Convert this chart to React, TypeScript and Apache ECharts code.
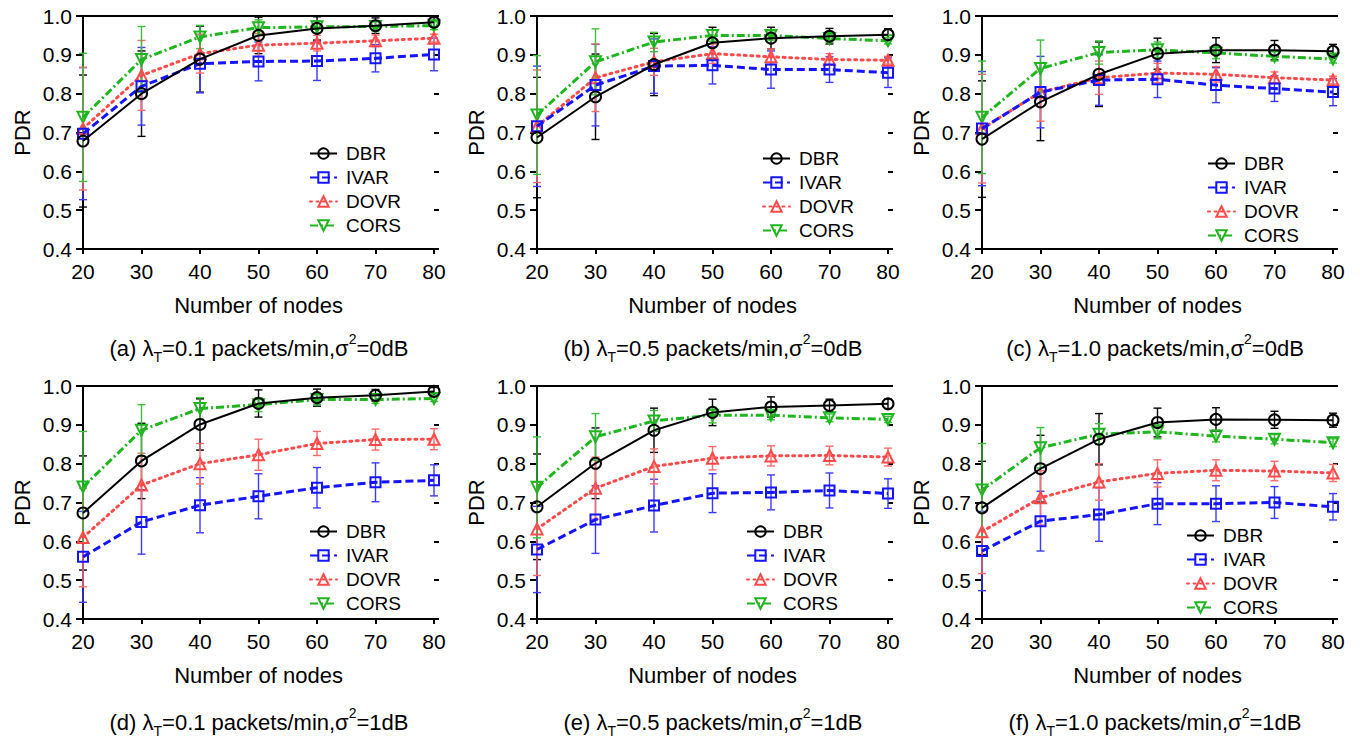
import React, { useEffect, useRef } from "react";
import * as echarts from "echarts";

const nodes = [20, 30, 40, 50, 60, 70, 80];
const seriesNames = ["DBR", "IVAR", "DOVR", "CORS"];
const yTicks = [0.4, 0.5, 0.6, 0.7, 0.8, 0.9, 1.0];

// Mean PDR per panel, rows in order DBR, IVAR, DOVR, CORS
const meanA = [
  [0.678, 0.8, 0.889, 0.95, 0.968, 0.975, 0.984],
  [0.697, 0.819, 0.877, 0.883, 0.884, 0.891, 0.901],
  [0.71, 0.847, 0.903, 0.925, 0.93, 0.936, 0.943],
  [0.739, 0.888, 0.946, 0.97, 0.972, 0.973, 0.975],
];
const errA = [
  [0.17, 0.11, 0.085, 0.047, 0.03, 0.02, 0.012],
  [0.17, 0.1, 0.075, 0.05, 0.05, 0.035, 0.042],
  [0.158, 0.09, 0.05, 0.03, 0.02, 0.015, 0.01],
  [0.165, 0.085, 0.03, 0.02, 0.015, 0.012, 0.01],
];
const meanB = [
  [0.687, 0.792, 0.875, 0.931, 0.943, 0.948, 0.952],
  [0.716, 0.822, 0.871, 0.873, 0.862, 0.862, 0.854],
  [0.716, 0.841, 0.882, 0.903, 0.895, 0.888, 0.886],
  [0.745, 0.882, 0.933, 0.95, 0.95, 0.942, 0.936],
];
const errB = [
  [0.155, 0.11, 0.08, 0.04, 0.028, 0.02, 0.015],
  [0.155, 0.105, 0.07, 0.048, 0.048, 0.033, 0.038],
  [0.145, 0.087, 0.035, 0.025, 0.02, 0.015, 0.01],
  [0.153, 0.085, 0.025, 0.015, 0.012, 0.01, 0.008],
];
const meanC = [
  [0.683, 0.779, 0.85, 0.903, 0.912, 0.912, 0.909],
  [0.71, 0.804, 0.835, 0.837, 0.822, 0.813, 0.804],
  [0.71, 0.804, 0.841, 0.853, 0.85, 0.841, 0.835],
  [0.739, 0.865, 0.906, 0.913, 0.905, 0.896, 0.889],
];
const errC = [
  [0.15, 0.1, 0.083, 0.04, 0.032, 0.025, 0.018],
  [0.147, 0.092, 0.065, 0.047, 0.045, 0.033, 0.035],
  [0.14, 0.075, 0.043, 0.025, 0.02, 0.015, 0.01],
  [0.145, 0.073, 0.03, 0.02, 0.015, 0.012, 0.01],
];
const meanD = [
  [0.673, 0.807, 0.901, 0.955, 0.97, 0.976, 0.986],
  [0.56, 0.65, 0.693, 0.716, 0.738, 0.752, 0.757],
  [0.61, 0.745, 0.8, 0.823, 0.852, 0.862, 0.863],
  [0.74, 0.886, 0.942, 0.952, 0.965, 0.965, 0.968],
];
const errD = [
  [0.147, 0.097, 0.066, 0.035, 0.022, 0.015, 0.01],
  [0.117, 0.083, 0.071, 0.058, 0.052, 0.05, 0.04],
  [0.127, 0.082, 0.052, 0.04, 0.031, 0.027, 0.027],
  [0.143, 0.066, 0.028, 0.018, 0.012, 0.01, 0.008],
];
const meanE = [
  [0.689, 0.801, 0.886, 0.932, 0.946, 0.95, 0.954],
  [0.579, 0.656, 0.692, 0.724, 0.726, 0.731, 0.723],
  [0.632, 0.737, 0.793, 0.814, 0.82, 0.821, 0.817],
  [0.739, 0.869, 0.91, 0.925, 0.925, 0.918, 0.914],
];
const errE = [
  [0.136, 0.091, 0.057, 0.034, 0.026, 0.016, 0.012],
  [0.111, 0.087, 0.068, 0.05, 0.045, 0.045, 0.038],
  [0.12, 0.08, 0.045, 0.03, 0.026, 0.024, 0.023],
  [0.13, 0.06, 0.027, 0.02, 0.012, 0.01, 0.008],
];
const meanF = [
  [0.686, 0.787, 0.863, 0.906, 0.914, 0.913, 0.912],
  [0.575, 0.652, 0.669, 0.697, 0.697, 0.7, 0.689],
  [0.625, 0.712, 0.753, 0.775, 0.783, 0.781, 0.776],
  [0.732, 0.841, 0.876, 0.882, 0.871, 0.863, 0.854],
];
const errF = [
  [0.12, 0.086, 0.066, 0.037, 0.03, 0.022, 0.018],
  [0.102, 0.077, 0.069, 0.054, 0.046, 0.041, 0.034],
  [0.108, 0.07, 0.047, 0.035, 0.027, 0.025, 0.022],
  [0.12, 0.052, 0.027, 0.018, 0.015, 0.012, 0.01],
];

const captions = [
  "{n|(a) λ}{sub|T}{n|=0.1 packets/min,σ}{sup|2}{n|=0dB}",
  "{n|(b) λ}{sub|T}{n|=0.5 packets/min,σ}{sup|2}{n|=0dB}",
  "{n|(c) λ}{sub|T}{n|=1.0 packets/min,σ}{sup|2}{n|=0dB}",
  "{n|(d) λ}{sub|T}{n|=0.1 packets/min,σ}{sup|2}{n|=1dB}",
  "{n|(e) λ}{sub|T}{n|=0.5 packets/min,σ}{sup|2}{n|=1dB}",
  "{n|(f) λ}{sub|T}{n|=1.0 packets/min,σ}{sup|2}{n|=1dB}",
];
const xAxisTitle = "Number of nodes";
const yAxisTitle = "PDR";

const FONT = "'Liberation Sans', Arial, Helvetica, sans-serif";

const panels = [
  { mean: meanA, err: errA },
  { mean: meanB, err: errB },
  { mean: meanC, err: errC },
  { mean: meanD, err: errD },
  { mean: meanE, err: errE },
  { mean: meanF, err: errF },
];

// layout
const gridLefts = [83, 537, 982];
const gridTops = [16, 386];
const gridW = 351;
const gridH = 233;
const captionX = [259, 713, 1155];
const captionY = [348, 722];
const legendPos = [
  { left: 304, top: 139 },
  { left: 757, top: 144 },
  { left: 1202, top: 149 },
  { left: 304, top: 517 },
  { left: 741, top: 517 },
  { left: 1181, top: 521 },
];

const lineColors = ["#000000", "#1414ff", "#ff4a4a", "#1fb51f"];
const errColors = ["#000000", "#3b3bff", "#ff6b6b", "#3cc03c"];
const symbols = ["circle", "rect", "triangle", "triangle"];
const symbolRotates = [0, 0, 0, 180];
const symbolSizes = [11, 10, 11, 11];
const dashes: any[] = ["solid", [8, 4], [2, 4.5], [8, 3, 2, 3]];
const lineWidths = [2, 3, 3, 3];

function renderErr(params: any, api: any) {
  const x = api.value(0);
  const lo = api.value(1);
  const hi = api.value(2);
  const t = api.coord([x, hi]);
  const b = api.coord([x, lo]);
  const hw = 4;
  const style = { stroke: api.visual("color"), lineWidth: 1.4 };
  return {
    type: "group",
    children: [
      { type: "line", shape: { x1: t[0], y1: t[1], x2: b[0], y2: b[1] }, style },
      { type: "line", shape: { x1: t[0] - hw, y1: t[1], x2: t[0] + hw, y2: t[1] }, style },
      { type: "line", shape: { x1: b[0] - hw, y1: b[1], x2: b[0] + hw, y2: b[1] }, style },
    ],
  };
}

function buildOption() {
  const grid: any[] = [];
  const xAxis: any[] = [];
  const yAxis: any[] = [];
  const series: any[] = [];
  const legend: any[] = [];
  const graphic: any[] = [];

  panels.forEach((p, i) => {
    const row = Math.floor(i / 3);
    const col = i % 3;
    grid.push({ left: gridLefts[col], top: gridTops[row], width: gridW, height: gridH });
    const xi = xAxis.length;
    xAxis.push({
      type: "value",
      gridIndex: i,
      min: 20,
      max: 80,
      interval: 10,
      name: xAxisTitle,
      nameLocation: "middle",
      nameGap: 45,
      nameTextStyle: { fontSize: 22, color: "#000", fontFamily: FONT },
      axisLine: { show: true, lineStyle: { color: "#000", width: 2 } },
      axisTick: { show: true, length: 5, lineStyle: { color: "#000", width: 2 } },
      axisLabel: { fontSize: 21, color: "#000", fontFamily: FONT, margin: 12 },
      splitLine: { show: false },
    });
    xAxis.push({
      type: "value",
      gridIndex: i,
      position: "top",
      min: 20,
      max: 80,
      interval: 10,
      axisLine: { show: true, onZero: false, lineStyle: { color: "#000", width: 2 } },
      axisTick: { show: false },
      axisLabel: { show: false },
      splitLine: { show: false },
    });
    const yi = yAxis.length;
    yAxis.push({
      type: "value",
      gridIndex: i,
      min: 0.4,
      max: 1.0,
      interval: 0.1,
      name: yAxisTitle,
      nameLocation: "middle",
      nameGap: 50,
      nameRotate: 90,
      nameTextStyle: { fontSize: 22, color: "#000", fontFamily: FONT },
      axisLine: { show: true, onZero: false, lineStyle: { color: "#000", width: 2 } },
      axisTick: { show: true, length: 7, lineStyle: { color: "#000", width: 2 } },
      axisLabel: {
        fontSize: 21,
        color: "#000",
        fontFamily: FONT,
        margin: 11,
        formatter: (v: number) => v.toFixed(1),
      },
      splitLine: { show: false },
    });
    yAxis.push({
      type: "value",
      gridIndex: i,
      position: "right",
      min: 0.4,
      max: 1.0,
      interval: 0.1,
      axisLine: { show: false, onZero: false },
      axisTick: { show: true, length: 5, lineStyle: { color: "#000", width: 2 } },
      axisLabel: { show: false },
      splitLine: { show: false },
    });

    // error bars
    seriesNames.forEach((name, s) => {
      series.push({
        type: "custom",
        name: name + " error",
        xAxisIndex: xi,
        yAxisIndex: yi,
        z: 2,
        itemStyle: { color: errColors[s] },
        renderItem: renderErr,
        encode: { x: 0, y: [1, 2] },
        data: nodes.map((n, k) => [n, p.mean[s][k] - p.err[s][k], p.mean[s][k] + p.err[s][k]]),
        silent: true,
      });
    });
    // lines, DBR drawn last
    [3, 2, 1, 0].forEach((s) => {
      series.push({
        type: "line",
        name: seriesNames[s],
        xAxisIndex: xi,
        yAxisIndex: yi,
        z: 3 + (3 - s),
        data: nodes.map((n, k) => [n, p.mean[s][k]]),
        symbol: symbols[s],
        symbolSize: symbolSizes[s],
        symbolRotate: symbolRotates[s],
        showSymbol: true,
        itemStyle: { color: "rgba(255,255,255,0)", borderColor: lineColors[s], borderWidth: 2 },
        lineStyle: { color: lineColors[s], width: lineWidths[s], type: dashes[s], cap: s === 2 ? "round" : "butt" },
      });
    });

    legend.push({
      data: seriesNames,
      orient: "vertical",
      left: legendPos[i].left,
      top: legendPos[i].top,
      itemWidth: 27,
      itemHeight: 13,
      itemGap: 5,
      selectedMode: false,
      textStyle: { fontSize: 19, color: "#000", fontFamily: FONT, padding: [0, 0, 0, 4] },
    });

    graphic.push({
      type: "text",
      x: captionX[col],
      y: captionY[row],
      style: {
        text: captions[i],
        fill: "#000",
        align: "center",
        verticalAlign: "middle",
        fontFamily: FONT,
        rich: {
          n: { fontSize: 22, lineHeight: 32, fontFamily: FONT, fill: "#000", verticalAlign: "middle" },
          sub: { fontSize: 14, lineHeight: 15, fontFamily: FONT, fill: "#000", verticalAlign: "bottom" },
          sup: { fontSize: 14, lineHeight: 15, fontFamily: FONT, fill: "#000", verticalAlign: "top" },
        },
      },
    });
  });

  return {
    animation: false,
    backgroundColor: "#fff",
    grid,
    xAxis,
    yAxis,
    series,
    legend,
    graphic,
  };
}

export default function App() {
  const ref = useRef<HTMLDivElement>(null);
  useEffect(() => {
    if (!ref.current) return;
    const chart = echarts.init(ref.current, null, { renderer: "svg" });
    chart.setOption(buildOption() as any);
    return () => chart.dispose();
  }, []);
  return (
    <div
      ref={ref}
      style={{ position: "fixed", left: 0, top: 0, width: 1360, height: 745, background: "#fff" }}
    />
  );
}
